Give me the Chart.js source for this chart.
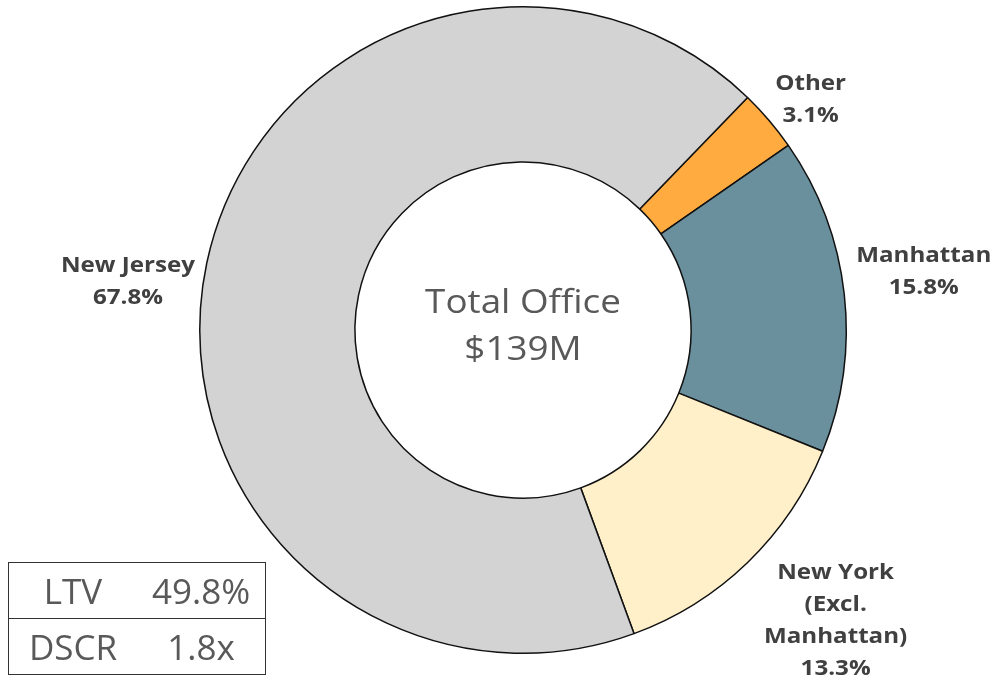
<!doctype html>
<html lang="en">
  <head>
    <meta charset="utf-8">
    <title>Total Office</title>
    <style>
      html, body { margin: 0; padding: 0; background: #fff; }
      .chartBox { position: relative; width: 992px; height: 679px; }
      .stats {
        position: absolute; left: 8px; top: 562px;
        border-collapse: collapse; border: 1px solid #333;
        font-family: "Open Sans", sans-serif; font-size: 35px; color: #595959;
      }
      .stats td {
        width: 128px; height: 55px;
        text-align: center; padding: 0; line-height: 55px;
      }
      .stats tr + tr td { border-top: 1px solid #333; }
    </style>
  </head>
  <body>
    <div class="chartBox">
      <canvas id="myChart" width="992" height="679"></canvas>
      <table class="stats" id="stats"></table>
    </div>
    <script src="https://cdn.jsdelivr.net/npm/chart.js/dist/chart.umd.min.js"></script>
    <script>
    // data
    const categories = ['Other', 'Manhattan', 'New York\n(Excl.\nManhattan)', 'New Jersey'];
    const shares = [3.1, 15.8, 13.3, 67.8];
    const colors = ['#ffab40', '#6a8f9d', '#fff0c9', '#d3d3d3'];
    const centerLines = ['Total Office', '$139M'];
    const statNames = ['LTV', 'DSCR'];
    const statValues = ['49.8%', '1.8x'];

    // stats box
    const table = document.getElementById('stats');
    statNames.forEach((n, i) => {
      const tr = document.createElement('tr');
      tr.innerHTML = '<td>' + n + '</td><td>' + statValues[i] + '</td>';
      table.appendChild(tr);
    });

    // small nudges for the outside labels (same order as categories)
    const labelDx = [-3, 0, 8, 0];
    const labelDy = [-13, -21, 50, 21];
    const stretch = 1.15; // text in the original is a bit wide

    function wideText(ctx, txt, x, y) {
      ctx.save();
      ctx.translate(x, y);
      ctx.scale(stretch, 1);
      ctx.fillText(txt, 0, 0);
      ctx.restore();
    }

    const outsideLabels = {
      id: 'outsideLabels',
      afterDatasetsDraw(chart) {
        const ctx = chart.ctx;
        const meta = chart.getDatasetMeta(0);
        ctx.save();
        ctx.font = 'bold 21px "Open Sans"';
        ctx.fillStyle = '#404040';
        ctx.textAlign = 'center';
        ctx.textBaseline = 'middle';
        const lh = 32;
        meta.data.forEach((arc, i) => {
          const p = arc.getProps(['x', 'y', 'startAngle', 'endAngle', 'outerRadius']);
          const mid = (p.startAngle + p.endAngle) / 2;
          const r = p.outerRadius + 12;
          const ax = p.x + Math.cos(mid) * r + labelDx[i];
          const ay = p.y + Math.sin(mid) * r;
          const lines = categories[i].split('\n').concat([shares[i].toFixed(1) + '%']);
          const w = Math.max(...lines.map(l => ctx.measureText(l).width)) * stretch;
          const right = ax > p.x;
          const cx = right ? ax + w / 2 : ax - w / 2;
          const top = ay + labelDy[i] - (lines.length - 1) * lh / 2;
          lines.forEach((l, j) => wideText(ctx, l, cx, top + j * lh));
        });
        // center text
        ctx.font = '32px "Open Sans"';
        ctx.fillStyle = '#595959';
        const a = meta.data[0];
        centerLines.forEach((l, j) => {
          wideText(ctx, l, a.x, a.y - 26 + j * 47);
        });
        ctx.restore();
      }
    };

    const config = {
      type: 'doughnut',
      data: {
        labels: categories,
        datasets: [{
          data: shares,
          backgroundColor: colors,
          borderColor: '#111',
          borderWidth: 1.5
        }]
      },
      options: {
        responsive: false,
        animation: false,
        rotation: 44,
        cutout: '52%',
        layout: { padding: { left: 199, right: 145, top: 6, bottom: 25 } },
        plugins: {
          legend: { display: false },
          tooltip: { enabled: false }
        }
      },
      plugins: [outsideLabels]
    };

    const myChart = new Chart(document.getElementById('myChart'), config);
    </script>
  </body>
</html>
